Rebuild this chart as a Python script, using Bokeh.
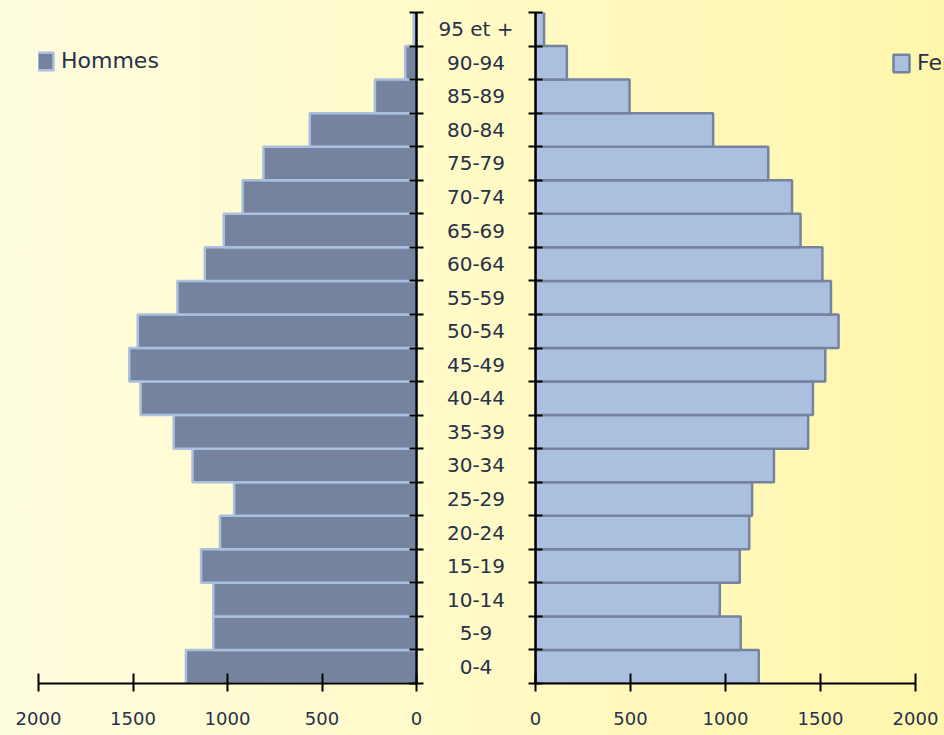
from bokeh.plotting import figure
from bokeh.layouts import row
from bokeh.models import Range1d, FixedTicker, Legend, LegendItem, ColumnDataSource
from bokeh.core.properties import value
from bokeh.embed import file_html
from bokeh.resources import INLINE

# ---- data (bottom to top) ----
age_groups = ["0-4", "5-9", "10-14", "15-19", "20-24", "25-29", "30-34", "35-39",
              "40-44", "45-49", "50-54", "55-59", "60-64", "65-69", "70-74",
              "75-79", "80-84", "85-89", "90-94", "95 et +"]
hommes = [1220, 1075, 1075, 1140, 1040, 965, 1185, 1285, 1460, 1520,
          1475, 1265, 1120, 1020, 920, 810, 565, 220, 60, 15]
femmes = [1175, 1080, 970, 1075, 1125, 1140, 1255, 1435, 1460, 1525,
          1595, 1555, 1510, 1395, 1350, 1225, 935, 495, 165, 45]
x_ticks = [0, 500, 1000, 1500, 2000]
x_max = 2000

centers = [i + 0.5 for i in range(len(age_groups))]
bounds = list(range(len(age_groups) + 1))

FONT = "DejaVu Sans"
TXT = "#27304a"
DARK = "#76839f"
LIGHT = "#abc0de"

src = ColumnDataSource(dict(y=centers, h=hommes, f=femmes, lab=age_groups,
                            xm=[0.5] * len(age_groups)))

H = 735
TOP = 12
BOT = 52
FRAME_W = 378      # px for 0..2000
RIGHT_EXTRA = 29   # frame of the right panel runs past 2000 up to the page edge


def style(p):
    p.background_fill_alpha = 0
    p.border_fill_alpha = 0
    p.outline_line_color = None
    p.xgrid.grid_line_color = None
    p.ygrid.grid_line_color = None
    p.min_border_top = TOP
    p.min_border_bottom = BOT


def style_x(ax):
    ax.ticker = FixedTicker(ticks=x_ticks)
    ax.bounds = (0, x_max)
    ax.axis_line_color = "black"
    ax.axis_line_width = 2
    ax.major_tick_line_color = "black"
    ax.major_tick_line_width = 2
    ax.major_tick_in = 10
    ax.major_tick_out = 8
    ax.minor_tick_line_color = None
    ax.major_label_standoff = 20
    ax.major_label_text_font = FONT
    ax.major_label_text_font_size = "18px"
    ax.major_label_text_color = TXT


def style_y(ax):
    ax.ticker = FixedTicker(ticks=[], minor_ticks=bounds)
    ax.axis_line_color = "black"
    ax.axis_line_width = 2.5
    ax.major_tick_line_color = None
    ax.minor_tick_line_color = "black"
    ax.minor_tick_line_width = 2
    ax.minor_tick_in = 7
    ax.minor_tick_out = 7
    ax.major_label_standoff = 0


# ---- left: Hommes ----
pl = figure(width=38 + FRAME_W + 12, height=H, x_range=Range1d(x_max, 0),
            y_range=Range1d(0, 20), y_axis_location="right",
            output_backend="svg", toolbar_location=None)
style(pl)
pl.min_border_left = 38
pl.min_border_right = 12
rh = pl.hbar(y="y", left=0, right="h", height=1, source=src,
             fill_color=DARK, line_color=LIGHT, line_width=2.5)
style_x(pl.xaxis[0])
style_y(pl.yaxis[0])
leg_h = Legend(items=[LegendItem(label="Hommes", renderers=[rh])], location=(-3, 610),
               background_fill_alpha=0, border_line_color=None, padding=0, margin=0,
               glyph_width=20, glyph_height=22, label_standoff=6,
               label_text_font=FONT, label_text_font_size="22px", label_text_color=TXT)
pl.add_layout(leg_h)

# ---- middle: labels ----
pm = figure(width=95, height=H, x_range=Range1d(0, 1), y_range=pl.y_range,
            output_backend="svg", toolbar_location=None)
style(pm)
pm.min_border_left = 0
pm.min_border_right = 0
pm.xaxis.visible = False
pm.yaxis.visible = False
pm.text(x="xm", y="y", text="lab", source=src, text_align="center",
        text_baseline="middle", text_font=value(FONT), text_font_size="20px",
        text_color=TXT)

# ---- right: Femmes ----
pr = figure(width=12 + FRAME_W + 2 + RIGHT_EXTRA, height=H,
            x_range=Range1d(0, x_max * (FRAME_W + 2 + RIGHT_EXTRA) / (FRAME_W + 2)),
            y_range=pl.y_range, output_backend="svg", toolbar_location=None)
style(pr)
pr.min_border_left = 12
pr.min_border_right = 0
rf = pr.hbar(y="y", left=0, right="f", height=1, source=src,
             fill_color=LIGHT, line_color=DARK, line_width=2.5)
style_x(pr.xaxis[0])
style_y(pr.yaxis[0])
leg_f = Legend(items=[LegendItem(label="Femmes", renderers=[rf])], location=(356, 608),
               background_fill_alpha=0, border_line_color=None, padding=0, margin=0,
               glyph_width=20, glyph_height=22, label_standoff=6,
               label_text_font=FONT, label_text_font_size="22px", label_text_color=TXT)
pr.add_layout(leg_f)

layout = row(pl, pm, pr)

html = file_html(layout, INLINE, title="Pyramide des ages")
html = html.replace("</head>",
                    "<style>html{min-height:100%;background:linear-gradient(to right,#fffde0 0%,#fffac6 50%,#fff6ac 100%);}"
                    "body{background:transparent;}</style></head>", 1)
open("out.html", "w").write(html)
